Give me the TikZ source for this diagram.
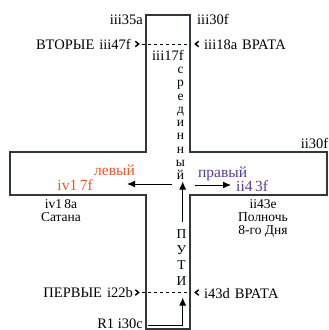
\documentclass[tikz,border=0pt]{standalone}
\usepackage{fontspec}
\setmainfont{Liberation Serif}
\usetikzlibrary{arrows.meta}
\definecolor{linec}{RGB}{50,55,60}
\definecolor{leftc}{RGB}{232,88,45}
\definecolor{rightc}{RGB}{88,60,158}
\tikzset{
  barline/.style={draw=linec, line width=1.8pt, line join=miter},
  lbl/.style={inner sep=0pt, font=\fontsize{14.5}{15}\selectfont},
  clbl/.style={inner sep=0pt, font=\fontsize{15.5}{16}\selectfont},
  stack/.style={inner sep=0pt, align=center, font=\fontsize{13.5}{13}\selectfont},
  vlet/.style={inner sep=0pt, anchor=base, font=\fontsize{13.5}{14}\selectfont},
  flow/.style={draw=black, line width=1pt, -{Latex[length=8pt,width=7pt]}},
  gateline/.style={draw=black, line width=0.6pt, dash pattern=on 3pt off 3pt},
  chev/.style={draw=black, line width=1.5pt, line cap=butt, line join=miter}
}
\begin{document}
\begin{tikzpicture}[x=1pt,y=-1pt]
\useasboundingbox (0,0) rectangle (329,330);
% cross outline
\draw[barline] (146,152) -- (146,15) -- (190,15) -- (190,152) -- (327,152) -- (327,195)
  -- (190,195) -- (190,329) -- (146,329) -- (146,195) -- (10,195) -- (10,152) -- cycle;
% gate lines
\coordinate (g2l) at (142,44); \coordinate (g2r) at (190,44);
\coordinate (g1l) at (142,292.5); \coordinate (g1r) at (190,292.5);
\draw[gateline] (g2l) -- (g2r);
\draw[gateline] (g1l) -- (g1r);
% chevrons
\draw[chev] (135.3,41.3) -- (138.6,44) -- (135.3,46.7);
\draw[chev] (198.7,41.3) -- (195.4,44) -- (198.7,46.7);
\draw[chev] (135.3,289.8) -- (138.6,292.5) -- (135.3,295.2);
\draw[chev] (198.7,289.8) -- (195.4,292.5) -- (198.7,295.2);
% labels
\node[lbl, anchor=base east] (l35a) at (143,24.5) {iii35a};
\node[lbl, anchor=base west] (l30f) at (197,24.5) {iii30f};
\node[lbl, anchor=base east] (vtor) at (131,49.5) {ВТОРЫЕ\hspace{5pt}iii47f};
\node[lbl, anchor=base west] (vrata2) at (204,49.5) {iii18a\hspace{5pt}ВРАТА};
\node[lbl, anchor=base west] (l17f) at (152,60.5) {iii17f};
\foreach \ch [count=\i from 0] in {с,р,е,д,и,н,н,ы,й}{
  \node[vlet] (s\i) at (180.5,73.5+13.25*\i) {\ch};
}
\foreach \ch [count=\i from 0] in {П,У,Т,И}{
  \node[vlet] (p\i) at (181.5,238.5+15.6*\i) {\ch};
}
\node[clbl, anchor=base east, text=leftc] (levyi) at (135,175.5) {левый};
\node[clbl, anchor=base east, text=leftc] (iv17f) at (93,190.5) {iv1\,7f};
\node[clbl, anchor=base west, text=rightc] (pravyi) at (198,177) {правый};
\node[clbl, anchor=base west, text=rightc] (ii43f) at (236,191.5) {ii4\,3f};
\node[lbl, anchor=base east] (ii30f) at (328.5,148) {ii30f};
\node[stack, anchor=north] (satana) at (61,199.5) {iv1\,8a\\Сатана};
\node[stack, anchor=north] (poln) at (263,199.5) {ii43e\\Полночь\\8-го Дня};
\node[lbl, anchor=base east] (perv) at (133,297.5) {ПЕРВЫЕ\hspace{5pt}i22b};
\node[lbl, anchor=base west] (vrata1) at (204,298) {i43d\hspace{5pt}ВРАТА};
\node[lbl, anchor=base east] (r1) at (143,328) {R1 i30c};
% flow arrows
\coordinate (upS) at (182.7,222); \coordinate (upE) at (182.7,181.5);
\coordinate (lS) at (171.5,184); \coordinate (lE) at (127,184);
\coordinate (rS) at (195,185); \coordinate (rE) at (231,185);
\coordinate (bS) at (148,325); \coordinate (bC) at (182.7,325); \coordinate (bE) at (182.7,297.5);
\draw[flow] (upS) -- (upE);
\draw[flow] (lS) -- (lE);
\draw[flow] (rS) -- (rE);
\draw[flow] (bS) -- (bC) -- (bE);
\end{tikzpicture}
\end{document}
